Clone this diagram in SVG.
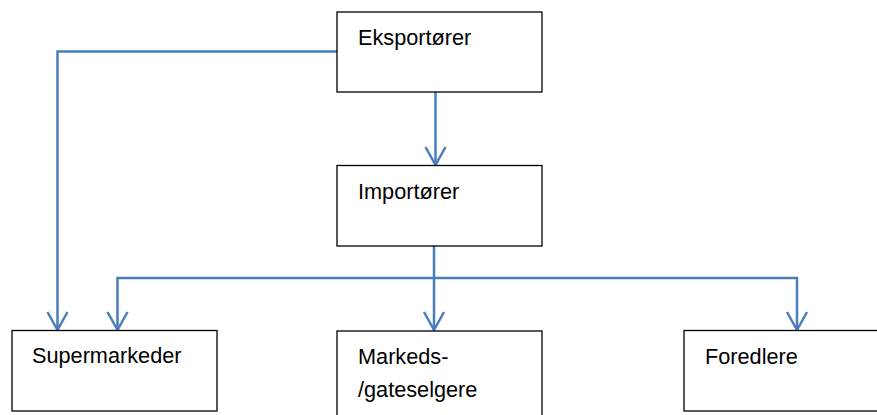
<svg xmlns="http://www.w3.org/2000/svg" width="877" height="415" viewBox="0 0 877 415">
  <style>
    .box { fill: #ffffff; stroke: #000000; stroke-width: 1.3; }
    .lbl { font-family: "Liberation Sans", Arial, sans-serif; font-size: 21.7px; fill: #000000; }
    .conn { fill: none; stroke: #4a7ebb; stroke-width: 2.5; }
  </style>
  <defs>
    <marker id="arr" markerUnits="userSpaceOnUse" markerWidth="30" markerHeight="30" viewBox="-22 -15 30 30" refX="0" refY="0" orient="auto">
      <path d="M-18,-10 L0,0 L-18,10" fill="none" stroke="#4a7ebb" stroke-width="2.5"/>
    </marker>
  </defs>
  <rect width="877" height="415" fill="#ffffff"/>

  <g id="connectors">
    <!-- Eksportører to Importører -->
    <path class="conn" d="M435.5,92 L435.5,165" marker-end="url(#arr)"/>
    <!-- Eksportører to Supermarkeder -->
    <path class="conn" d="M337,51.5 L57.5,51.5 L57.5,330" marker-end="url(#arr)"/>
    <!-- Importører trunk and branches -->
    <path class="conn" d="M434,246 L434,330" marker-end="url(#arr)"/>
    <path class="conn" d="M434,278 L117.5,278 L117.5,330" marker-end="url(#arr)"/>
    <path class="conn" d="M434,278 L797,278 L797,330" marker-end="url(#arr)"/>
  </g>

  <g id="eksportorer">
    <rect class="box" x="337" y="12" width="205" height="80"/>
    <text class="lbl" x="358" y="45">Eksportører</text>
  </g>
  <g id="importorer">
    <rect class="box" x="337" y="165.5" width="205" height="80.5"/>
    <text class="lbl" x="358" y="199">Importører</text>
  </g>
  <g id="supermarkeder">
    <rect class="box" x="12" y="330.5" width="205" height="80.5"/>
    <text class="lbl" x="32" y="363">Supermarkeder</text>
  </g>
  <g id="markedsselgere">
    <rect class="box" x="337" y="331" width="205" height="90"/>
    <text class="lbl" x="358" y="364">Markeds-</text>
    <text class="lbl" x="358" y="397">/gateselgere</text>
  </g>
  <g id="foredlere">
    <rect class="box" x="684" y="330.5" width="205" height="80.5"/>
    <text class="lbl" x="705" y="364">Foredlere</text>
  </g>
</svg>
